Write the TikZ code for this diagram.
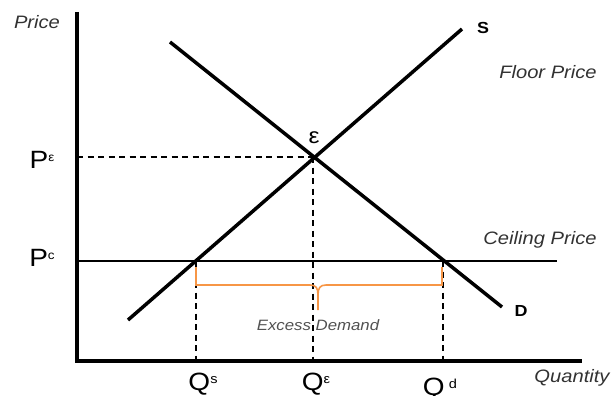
\documentclass[tikz,border=0pt]{standalone}
\usepackage{fontspec}
\setmainfont[FakeStretch=1.12]{Liberation Sans}
\definecolor{bracecol}{RGB}{247,150,70}
\definecolor{labgray}{RGB}{50,50,50}
\begin{document}
\begin{tikzpicture}[x=1pt,y=-1pt,
  axis/.style={line width=3.5pt},
  curve/.style={line width=3.5pt},
  guide/.style={line width=1.6pt,dash pattern=on 6pt off 4.5pt},
  ceil/.style={line width=1.3pt},
  brace/.style={bracecol,line width=1.6pt},
  axlab/.style={font=\fontsize{18}{18}\selectfont\itshape,text=labgray,inner sep=0pt},
  plab/.style={font=\fontsize{25}{25}\selectfont,inner sep=0pt},
  curvelab/.style={font=\fontsize{16}{16}\selectfont\bfseries,inner sep=0pt}]
\useasboundingbox (0,0) rectangle (611,396);
% axes
\coordinate (ytop) at (77,12);
\coordinate (origin) at (77,361);
\coordinate (xend) at (582,361);
\draw[axis] (ytop) -- (origin) -- (xend);
% key points
\coordinate (E) at (313,157);
\coordinate (Ey) at (77,157);
\coordinate (Ex) at (313,361);
\coordinate (Cy) at (77,261);
\coordinate (Cend) at (557,261);
\coordinate (Qs) at (196,261);
\coordinate (Qsx) at (196,361);
\coordinate (Qd) at (443,261);
\coordinate (Qdx) at (443,361);
% dashed guides
\draw[guide] (Ey) -- (E);
\draw[guide] (E) -- (Ex);
\draw[guide] (Qs) -- (Qsx);
\draw[guide] (Qd) -- (Qdx);
% ceiling line
\draw[ceil] (Cy) -- (Cend);
% supply and demand
\coordinate (S0) at (128,320);
\coordinate (S1) at (462,29);
\coordinate (D0) at (170,42);
\coordinate (D1) at (502,307);
\draw[curve] (S0) -- (S1);
\draw[curve] (D0) -- (D1);
% brace
\coordinate (bl) at (196,267);
\coordinate (br) at (442,267);
\coordinate (btip) at (318,310);
\draw[brace] (bl) -- (196,285) -- (310,285) .. controls (316,285) and (318,288) .. (318,295) -- (btip)
  (318,295) .. controls (318,288) and (320,285) .. (326,285) -- (442,285) -- (br);
% labels
\node[axlab] (price) at (37,22) {Price};
\node[axlab] (qty) at (572,378) {Quantity};
\node[axlab] (floor) at (548,72) {Floor Price};
\node[axlab] (ceiling) at (540,240) {Ceiling Price};
\node[axlab,font=\fontsize{15}{15}\selectfont\itshape,text=labgray!85] (excess) at (318,325) {Excess Demand};
\node[curvelab] (Slab) at (483,28) {S};
\node[curvelab] (Dlab) at (521,311) {D};
\node[font=\fontsize{22}{22}\selectfont,inner sep=0pt] (eps) at (314,138) {ε};
\node[plab] (Pe) at (42,160) {P\raisebox{7pt}{\fontsize{12}{12}\selectfont ε}};
\node[plab] (Pc) at (42,258) {P\raisebox{7pt}{\fontsize{12}{12}\selectfont c}};
\node[plab] (Qslab) at (203,384) {Q\raisebox{7pt}{\fontsize{13}{13}\selectfont s}};
\node[plab] (Qelab) at (316,384) {Q\raisebox{7pt}{\fontsize{13}{13}\selectfont ε}};
\node[plab] (Qdlab) at (440,389) {Q\,\raisebox{7pt}{\fontsize{13}{13}\selectfont d}};
\end{tikzpicture}
\end{document}
